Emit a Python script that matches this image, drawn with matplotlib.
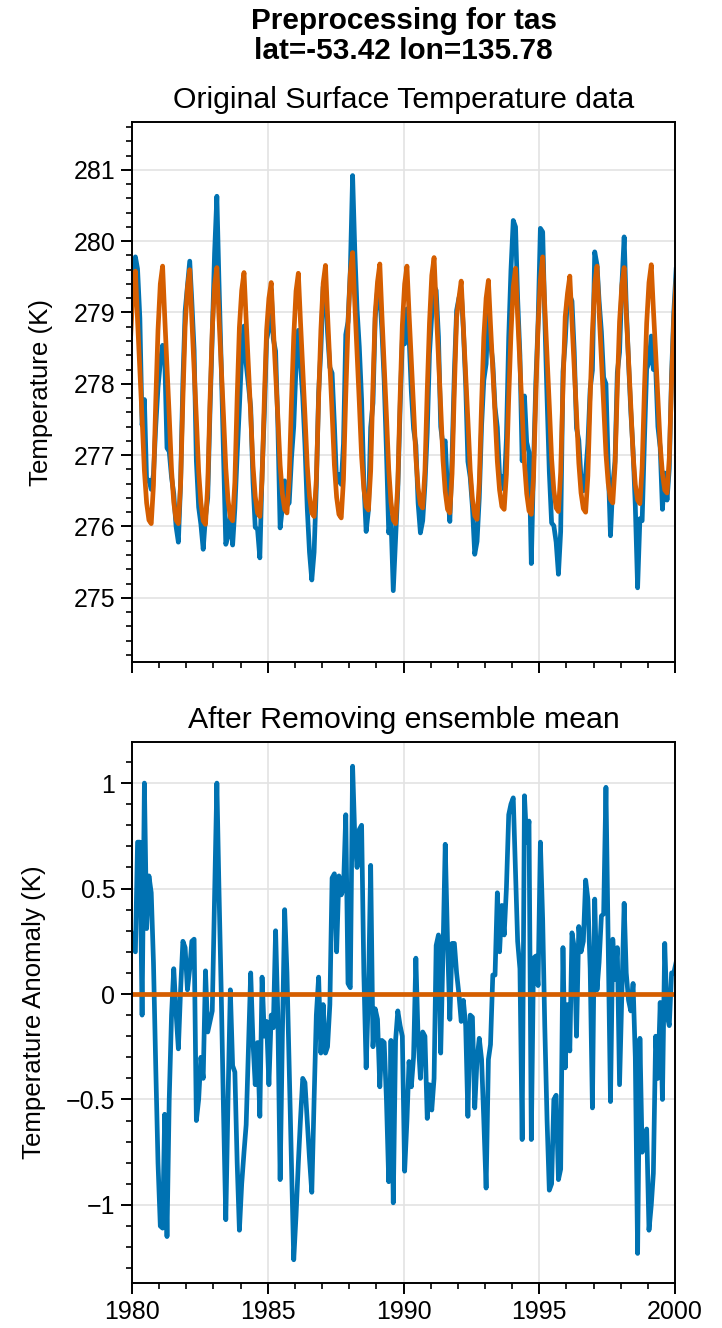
import numpy as np
import pandas as pd
import matplotlib
matplotlib.use("Agg")
import matplotlib.pyplot as plt
import matplotlib.dates as mdates
from matplotlib.ticker import MultipleLocator, FuncFormatter

plt.rcParams['font.family'] = ['Liberation Sans', 'DejaVu Sans']

# monthly samples (mid-month), Dec 1979 .. Jan 2000; the two edge months get clipped
times = pd.date_range("1979-12-01", periods=242, freq="MS") + pd.Timedelta(days=15)

# ensemble mean surface temperature (K)
ens_mean = [
    278.70,
    279.35, 279.58, 278.89, 278.20, 277.52, 276.78, 276.33, 276.09, 276.04, 276.58, 277.76, 278.75,  # 1980
    279.40, 279.65, 278.95, 278.25, 277.55, 276.79, 276.34, 276.09, 276.04, 276.59, 277.79, 278.80,  # 1981
    279.35, 279.60, 278.91, 278.21, 277.52, 276.77, 276.33, 276.08, 276.03, 276.58, 277.77, 278.76,  # 1982
    279.38, 279.63, 278.94, 278.25, 277.56, 276.82, 276.37, 276.13, 276.08, 276.62, 277.81, 278.79,  # 1983
    279.31, 279.56, 278.90, 278.23, 277.57, 276.85, 276.42, 276.19, 276.14, 276.66, 277.80, 278.75,  # 1984
    279.20, 279.42, 278.79, 278.16, 277.54, 276.86, 276.46, 276.24, 276.19, 276.68, 277.76, 278.66,  # 1985
    279.30, 279.55, 278.89, 278.22, 277.56, 276.85, 276.42, 276.19, 276.14, 276.66, 277.80, 278.75,  # 1986
    279.41, 279.66, 278.97, 278.28, 277.60, 276.86, 276.41, 276.17, 276.12, 276.66, 277.84, 278.82,  # 1987
    279.55, 279.84, 279.14, 278.44, 277.74, 276.98, 276.53, 276.28, 276.23, 276.78, 277.98, 278.99,  # 1988
    279.43, 279.68, 278.97, 278.26, 277.56, 276.80, 276.34, 276.09, 276.04, 276.60, 277.81, 278.82,  # 1989
    279.40, 279.65, 278.99, 278.33, 277.67, 276.97, 276.54, 276.31, 276.26, 276.78, 277.91, 278.85,  # 1990
    279.52, 279.77, 279.08, 278.38, 277.68, 276.93, 276.49, 276.24, 276.19, 276.74, 277.93, 278.93,  # 1991
    279.20, 279.44, 278.79, 278.14, 277.49, 276.79, 276.38, 276.15, 276.10, 276.61, 277.72, 278.65,  # 1992
    279.20, 279.45, 278.83, 278.20, 277.58, 276.91, 276.51, 276.28, 276.24, 276.73, 277.80, 278.69,  # 1993
    279.36, 279.62, 278.95, 278.28, 277.61, 276.89, 276.46, 276.22, 276.17, 276.70, 277.85, 278.81,  # 1994
    279.46, 279.78, 279.09, 278.39, 277.70, 276.95, 276.51, 276.26, 276.21, 276.76, 277.95, 278.94,  # 1995
    279.27, 279.51, 278.87, 278.22, 277.58, 276.89, 276.47, 276.25, 276.20, 276.71, 277.81, 278.73,  # 1996
    279.40, 279.65, 279.01, 278.36, 277.71, 277.02, 276.61, 276.38, 276.33, 276.84, 277.94, 278.87,  # 1997
    279.38, 279.63, 278.99, 278.34, 277.70, 277.01, 276.59, 276.37, 276.32, 276.83, 277.93, 278.85,  # 1998
    279.42, 279.67, 279.05, 278.43, 277.80, 277.14, 276.74, 276.51, 276.47, 276.96, 278.03, 278.91,  # 1999
    279.45,
]

# anomaly after removing the ensemble mean (K)
anomaly = [
    0.30,
    0.25, 0.20, 0.72, 0.72, -0.10, 1.00, 0.31, 0.56, 0.48, 0.15, -0.35, -0.80,  # 1980
    -1.10, -1.11, -0.57, -1.15, -0.50, -0.10, 0.12, -0.09, -0.26, 0.02, 0.25, 0.22,  # 1981
    0.02, 0.12, 0.25, 0.26, -0.60, -0.50, -0.30, -0.40, 0.11, -0.18, -0.13, -0.08,  # 1982
    0.45, 1.00, 0.50, 0.00, -0.55, -1.07, -0.50, 0.02, -0.34, -0.37, -0.80, -1.12,  # 1983
    -0.90, -0.75, -0.62, -0.25, 0.10, -0.23, -0.43, -0.23, -0.58, 0.08, -0.20, -0.13,  # 1984
    -0.43, -0.10, -0.16, 0.30, -0.10, -0.88, -0.20, 0.40, 0.10, -0.35, -0.80, -1.26,  # 1985
    -1.05, -0.80, -0.60, -0.40, -0.42, -0.60, -0.78, -0.94, -0.50, -0.10, 0.08, -0.28,  # 1986
    -0.05, -0.28, -0.25, -0.05, 0.55, 0.57, 0.20, 0.56, 0.47, 0.50, 0.85, 0.05,  # 1987
    0.03, 1.08, 0.75, 0.60, 0.78, 0.80, 0.10, -0.35, 0.00, 0.61, -0.25, -0.07,  # 1988
    -0.12, -0.44, -0.22, -0.23, -0.50, -0.89, -0.22, -0.99, -0.22, -0.08, -0.15, -0.20,  # 1989
    -0.84, -0.60, -0.32, -0.44, -0.30, 0.17, -0.21, -0.40, -0.18, -0.20, -0.59, -0.43,  # 1990
    -0.55, -0.40, 0.23, 0.28, -0.28, 0.20, 0.71, 0.25, -0.12, 0.24, 0.24, 0.10,  # 1991
    0.00, -0.13, -0.03, -0.15, -0.58, -0.10, -0.11, -0.54, -0.31, -0.21, -0.31, -0.60,  # 1992
    -0.92, -0.31, -0.24, 0.09, 0.09, 0.48, 0.20, 0.42, 0.28, 0.50, 0.85, 0.90,  # 1993
    0.93, 0.58, 0.25, 0.12, -0.69, 0.94, 0.72, 0.82, -0.69, 0.17, 0.18, 0.04,  # 1994
    0.72, 0.35, -0.15, -0.60, -0.93, -0.90, -0.50, -0.48, -0.88, -0.83, 0.22, -0.35,  # 1995
    -0.05, -0.27, 0.29, 0.22, -0.20, 0.32, 0.20, 0.25, 0.54, 0.45, 0.12, -0.54,  # 1996
    0.45, 0.02, 0.15, 0.37, 0.38, 0.98, 0.26, -0.51, 0.26, 0.07, 0.22, -0.43,  # 1997
    0.00, 0.43, 0.10, -0.03, -0.08, 0.05, -0.30, -1.23, -0.21, -0.75, -0.72, -0.64,  # 1998
    -1.12, -1.00, -0.85, -0.20, -0.40, -0.04, -0.50, 0.24, -0.10, -0.15, 0.10, 0.10,  # 1999
    0.15,
]

ens_mean = np.array(ens_mean)
anomaly = np.array(anomaly)
tas = ens_mean + anomaly  # original data = ensemble mean + anomaly

BLUE = '#0072B2'
ORANGE = '#D55E00'
LW = 1.7


def minus_fmt(v, pos):
    return '{:g}'.format(round(v, 3)).replace('-', '\u2212')


fig = plt.figure(figsize=(3.61, 6.64), dpi=200)
ax1 = fig.add_axes([0.1828, 0.5015, 0.7521, 0.4066])
ax2 = fig.add_axes([0.1828, 0.0339, 0.7521, 0.4074], sharex=ax1)

ax1.plot(times, tas, color=BLUE, lw=LW)
ax1.plot(times, ens_mean, color=ORANGE, lw=LW)
ax2.plot(times, anomaly, color=BLUE, lw=LW)
ax2.plot(times, np.zeros(len(times)), color=ORANGE, lw=LW)

for ax in (ax1, ax2):
    ax.grid(True, which='major', color='0.89', lw=0.6)
    ax.set_axisbelow(True)
    ax.tick_params(which='major', direction='out', length=4, width=0.7,
                   labelsize=9, pad=2)
    ax.tick_params(which='minor', direction='out', length=2, width=0.6)
    for s in ax.spines.values():
        s.set_linewidth(0.7)

ax1.set_xlim(pd.Timestamp("1980-01-01"), pd.Timestamp("2000-01-01"))
ax1.xaxis.set_major_locator(mdates.YearLocator(5))
ax1.xaxis.set_minor_locator(mdates.YearLocator(1))
ax1.xaxis.set_major_formatter(mdates.DateFormatter('%Y'))
ax1.tick_params(axis='x', labelbottom=False)

ax1.set_ylim(274.1, 281.67)
ax1.yaxis.set_major_locator(MultipleLocator(1))
ax1.yaxis.set_minor_locator(MultipleLocator(0.2))
ax1.yaxis.set_major_formatter(FuncFormatter(minus_fmt))

ax2.set_ylim(-1.37, 1.195)
ax2.yaxis.set_major_locator(MultipleLocator(0.5))
ax2.yaxis.set_minor_locator(MultipleLocator(0.1))
ax2.yaxis.set_major_formatter(FuncFormatter(minus_fmt))

ax1.set_title("Original Surface Temperature data", fontsize=10.9, pad=5)
ax2.set_title("After Removing ensemble mean", fontsize=10.9, pad=5)
ax1.set_ylabel("Temperature (K)", fontsize=9.3, labelpad=7.5)
ax2.set_ylabel("Temperature Anomaly (K)", fontsize=9.3, labelpad=7)

fig.text(0.559, 1 - 7 / 1328, "Preprocessing for tas\nlat=-53.42 lon=135.78",
         ha='center', va='top', fontsize=10.7, fontweight='bold', linespacing=1.1)

fig.savefig('out.png', dpi=200)
